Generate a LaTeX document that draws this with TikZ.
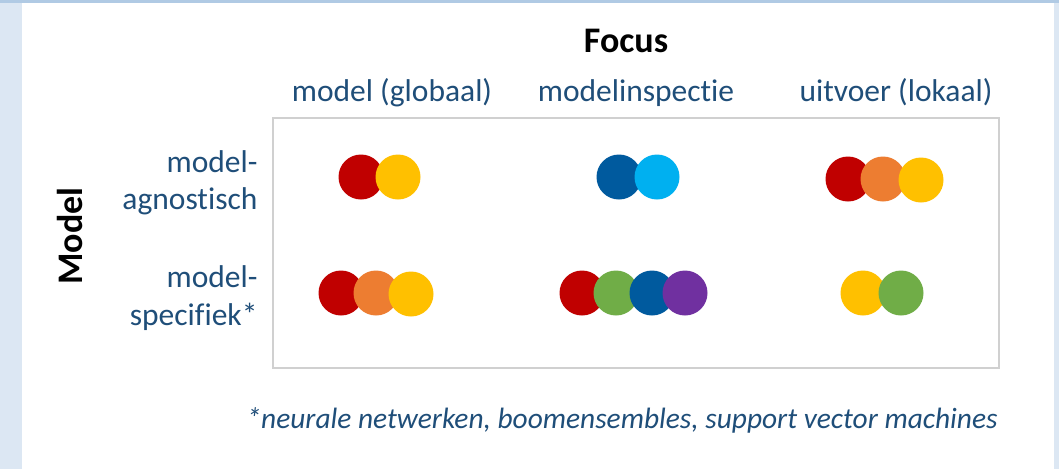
\documentclass[tikz,border=0pt]{standalone}
\usepackage{fontspec}
\setmainfont{Carlito}[Ligatures=NoCommon]
\usetikzlibrary{positioning}
\definecolor{textblue}{RGB}{31,78,121}
\definecolor{dotred}{RGB}{192,0,0}
\definecolor{dotorange}{RGB}{237,125,49}
\definecolor{dotyellow}{RGB}{255,192,0}
\definecolor{dotblue}{RGB}{0,90,158}
\definecolor{dotcyan}{RGB}{0,176,240}
\definecolor{dotgreen}{RGB}{112,173,71}
\definecolor{dotpurple}{RGB}{112,48,160}
\definecolor{framegray}{RGB}{208,208,208}
\definecolor{sideblue}{RGB}{220,231,243}
\definecolor{topblue}{RGB}{176,202,228}
\tikzset{
x=1pt, y=-1pt, % one unit is one pixel of the slide, y runs downwards
dot/.style={circle, inner sep=0pt, minimum size=45pt}, % a single coloured disc
header/.style={font=\fontsize{36}{43}\selectfont\bfseries, text=black, anchor=base}, % the two axis titles
collabel/.style={font=\fontsize{31.5}{38}\selectfont, text=textblue, anchor=base}, % column heads
rowlabel/.style={font=\fontsize{31.5}{37.5}\selectfont, text=textblue, align=right, anchor=east}, % row heads
}

\begin{document}
\begin{tikzpicture}
      \useasboundingbox (0,0) rectangle (1059,469);
      % slide background
      \fill[sideblue] (0,0) rectangle (1059,469);
      \fill[topblue] (0,0) rectangle (1059,3);
      \fill[white] (22,3) rectangle (1054,469);

      \node[header] (focus) at (626,52) {Focus};
      \node[header, rotate=90] (model) at (82,236) {Model};

      \node[collabel] (global) at (392,101) {model (globaal)};
      \node[collabel] (inspect) at (636,101) {modelinspectie};
      \node[collabel] (local) at (896,101) {uitvoer (lokaal)};

      \node[rowlabel] (agnostic) at (261,183) {model-\\agnostisch};
      \node[rowlabel] (specific) at (261,298) {model-\\specifiek*};

      \draw[framegray, line width=2pt] (273,118) rectangle (999,368);

      % model-agnostisch
      \node[dot, fill=dotred] (a1) at (361,177) {};
      \node[dot, fill=dotyellow] (a2) at (398,177) {};
      \node[dot, fill=dotblue] (b1) at (619,177) {};
      \node[dot, fill=dotcyan] (b2) at (657,177) {};
      \node[dot, fill=dotred] (c1) at (848,179) {};
      \node[dot, fill=dotorange] (c2) at (883,179) {};
      \node[dot, fill=dotyellow] (c3) at (921,180) {};

      % model-specifiek
      \node[dot, fill=dotred] (d1) at (341,293) {};
      \node[dot, fill=dotorange] (d2) at (376,293) {};
      \node[dot, fill=dotyellow] (d3) at (411,294) {};
      \node[dot, fill=dotred] (e1) at (582,293) {};
      \node[dot, fill=dotgreen] (e2) at (616,293) {};
      \node[dot, fill=dotblue] (e3) at (652,293) {};
      \node[dot, fill=dotpurple] (e4) at (685,293) {};
      \node[dot, fill=dotyellow] (f1) at (863,293) {};
      \node[dot, fill=dotgreen] (f2) at (901,293) {};

      \node[font=\fontsize{29.4}{35}\selectfont\itshape, text=textblue, anchor=base] (note) at (622,428) {*neurale netwerken, boomensembles, support vector machines};
    \end{tikzpicture}
\end{document}
